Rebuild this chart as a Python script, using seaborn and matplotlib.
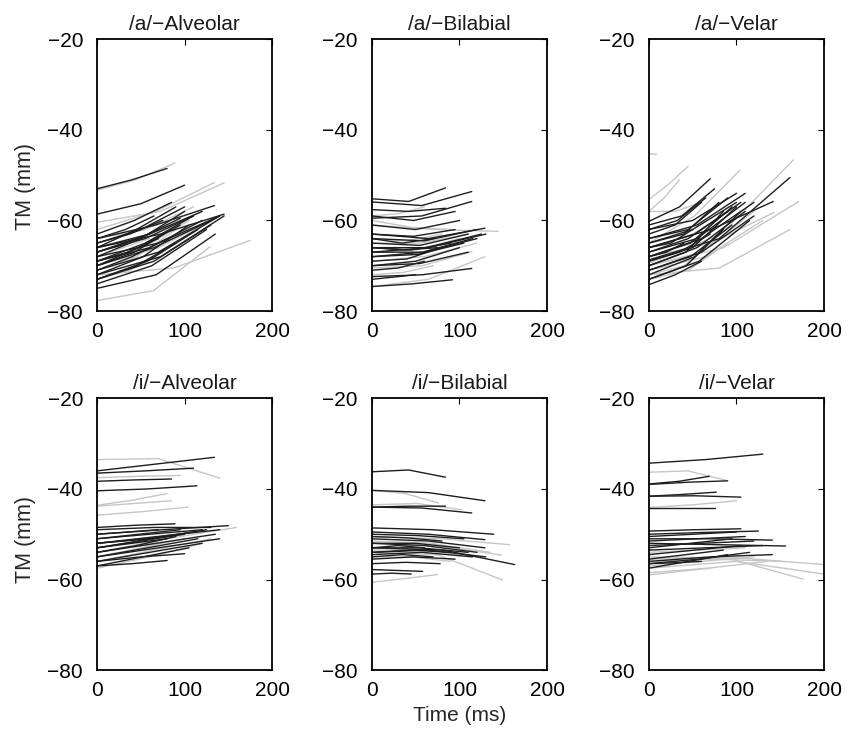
import matplotlib
matplotlib.use("Agg")
import matplotlib.pyplot as plt
import seaborn as sns
import pandas as pd

# Each trajectory: (end time ms, TM at start, TM at mid-time, TM at end)
a_alv_black = [
    (80, -53, -51, -48.5), (100, -58.6, -56.3, -52.2), (134, -64, -61, -56.7), (145, -66, -63, -58.6),
    (85, -63, -60, -56), (90, -66, -62, -57), (100, -68, -64, -58), (110, -67, -64, -59),
    (120, -69, -66, -60), (130, -70, -66, -60), (140, -71, -67, -59), (145, -72, -68, -59),
    (75, -65, -63, -60), (95, -70, -66, -61), (105, -72, -68, -61), (115, -73, -69, -62),
    (125, -74, -70, -62), (60, -67, -65, -63), (70, -69, -67, -64), (80, -71, -68, -64),
    (90, -73, -70, -65), (135, -75, -72, -63), (110, -69, -65, -59), (100, -65, -62, -57),
    (65, -64, -62, -59), (120, -66, -63, -58), (140, -68, -65, -59), (95, -67, -64, -59.5),
    (85, -70, -67, -62), (130, -73, -69, -61),
]
a_alv_gray = [
    (89, -53.3, -51, -47.3), (145, -60.4, -58, -51.7), (134, -62, -58, -51.6), (129, -77.7, -75.5, -65.8),
    (175, -72, -70.5, -64.4), (120, -66, -63, -58), (105, -69, -66, -60), (90, -71, -68, -62),
    (140, -70, -66, -59), (75, -73, -71, -67), (110, -64, -62, -57), (60, -68, -66, -64),
]
a_bil_black = [
    (84, -55.2, -55.8, -52.8), (114, -55.9, -56.7, -53.6), (84, -57.6, -58, -57.3), (114, -59.5, -59, -55.8),
    (95, -59, -60, -58), (129, -63, -64, -61.7), (100, -61, -62, -60), (120, -64, -64.5, -62),
    (110, -65, -65.5, -63), (125, -66, -66, -63), (115, -67, -67, -64), (105, -68, -67.5, -65),
    (90, -66, -66.5, -65), (80, -69, -68.5, -66), (100, -70, -69, -66), (120, -68, -67, -64),
    (130, -67, -66, -63), (70, -64, -65, -64), (60, -71, -70.5, -69), (114, -72.4, -72, -70.6),
    (92, -74.6, -74, -73.1), (110, -70, -69.5, -67), (75, -66, -66.5, -66), (95, -63, -63.5, -62),
    (50, -73, -72.5, -72),
]
a_bil_gray = [
    (144, -61, -62, -62.4), (60, -59, -58.5, -57), (129, -74.6, -73, -68), (114, -70.5, -70, -66.9),
    (90, -60, -61.5, -62), (100, -67, -66.5, -64), (120, -69, -68, -65), (80, -64, -64.5, -63),
    (70, -72, -71.5, -70), (110, -65, -65, -63),
]
a_vel_black = [
    (70, -60.2, -57, -50.8), (161, -68.7, -64, -50.5), (142, -66, -62, -55.8), (100, -62, -60, -54),
    (90, -64, -62, -55), (105, -66, -63, -56), (110, -67, -64, -56), (95, -68, -65, -57),
    (85, -70, -67, -58), (100, -69, -66, -57), (110, -70, -66, -58), (80, -65, -63, -56),
    (60, -63, -61, -56), (75, -61, -59, -53), (90, -67, -64, -58), (105, -72, -68, -58),
    (115, -73, -69, -60), (60, -74.2, -72, -69), (120, -71, -67, -59), (100, -65, -62, -56),
    (50, -66, -65, -62), (40, -68, -67, -65), (70, -69, -67, -63), (95, -71, -68, -61),
    (85, -73, -70, -62), (110, -64, -61, -54), (120, -68, -64, -56), (65, -62, -60, -55),
]
a_vel_gray = [
    (9, -45.3, -45.3, -45.4), (45, -55.4, -52, -48), (35, -58, -55, -51), (104, -65, -59, -48.9),
    (165, -69.5, -63, -46.6), (171, -70, -66, -55.8), (161, -72, -70.5, -62), (143, -68, -65, -58.2),
    (60, -58, -58, -56), (120, -70, -67, -58), (80, -72, -70, -64), (100, -66, -63, -57),
    (130, -71, -68, -60), (90, -73, -71, -65),
]
i_alv_black = [
    (134, -36, -34.5, -33), (110, -36.5, -36, -35.4), (85, -38.3, -38, -37.8), (114, -40.4, -40, -39.3),
    (89, -48.5, -48, -47.7), (150, -50, -49, -48.1), (140, -55, -53, -51), (100, -56, -55, -54.3),
    (80, -57, -56.5, -55.8), (130, -49, -48.5, -48.5), (120, -51, -50, -49), (110, -52, -51, -49.5),
    (100, -53, -51.5, -50), (90, -54, -52.5, -50.5), (125, -53, -51, -49), (135, -54, -52, -50),
    (115, -55, -53, -51), (70, -50, -49.5, -49), (60, -52, -51.5, -51), (95, -51, -50, -49),
    (105, -57, -55, -53), (140, -52, -50.5, -49), (80, -53, -52, -51), (120, -56, -54, -52),
]
i_alv_gray = [
    (140, -33.5, -33.3, -37.6), (95, -37.5, -37.2, -37), (80, -43.6, -42.5, -41), (85, -43.8, -43.2, -42.6),
    (104, -45.8, -45, -44), (159, -54, -51, -48.5), (120, -57.5, -55, -52), (100, -55, -53, -51),
    (90, -52, -51, -50), (130, -56, -53.5, -51), (70, -54, -53, -52),
]
i_bil_black = [
    (84, -36.2, -35.8, -37.4), (129, -40.3, -40.8, -42.6), (84, -44, -43.8, -43.8), (114, -44, -44.2, -45.3),
    (139, -48.6, -49, -50), (129, -49.5, -50, -51.2), (129, -51, -51.5, -53), (163, -53, -53.5, -56.7),
    (78, -56.5, -56.2, -56.5), (58, -57.8, -58, -58.2), (45, -58.8, -58.6, -58.8), (100, -52, -52, -53),
    (110, -53, -53, -54), (120, -52, -52.5, -54), (90, -54, -53.5, -54), (70, -55, -54.5, -55),
    (115, -54.5, -54, -55), (60, -53, -52.5, -53), (130, -54, -53.5, -55), (95, -55.5, -55, -55.5),
    (80, -50.5, -50.8, -51.5), (105, -50, -50.3, -51),
]
i_bil_gray = [
    (76, -40.3, -41, -43.1), (103, -43.5, -43.2, -44.6), (157, -50.5, -51, -52.3), (148, -52, -52.5, -54.6),
    (149, -54, -54.5, -60.1), (75, -60.6, -59.8, -58.9), (120, -53.5, -53.5, -55), (90, -55, -55, -56),
    (135, -51.5, -52, -54),
]
i_vel_black = [
    (130, -34.3, -33.5, -32.3), (69, -38.9, -38.3, -37.2), (90, -39, -38.5, -38.2), (77, -41.6, -41.2, -40.7),
    (105, -41.6, -41.5, -41.8), (75, -44.3, -44.3, -44.3), (105, -49.3, -49, -48.8), (125, -50, -49.6, -49.3),
    (141, -51, -51, -51.3), (156, -52, -52.3, -52.6), (141, -56, -55, -54.5), (100, -50.5, -50, -49.5),
    (110, -51.5, -51, -50.5), (95, -53, -52, -51), (120, -52.5, -52, -51.5), (105, -54.5, -53.5, -52.5),
    (85, -55.5, -54.5, -53.5), (115, -56.5, -55.5, -54), (90, -57.5, -56, -54.5), (60, -56.5, -56.3, -56),
    (130, -53.5, -53, -52.5),
]
i_vel_gray = [
    (89, -36.3, -36, -38.1), (100, -44.1, -43.5, -42.6), (200, -55.5, -55.2, -56.7), (200, -57.5, -56, -58.8),
    (176, -55, -55.2, -59.9), (135, -58.5, -57.5, -56), (120, -57, -56, -55), (70, -59, -58.2, -57.5),
    (110, -54, -53.5, -53), (150, -56, -55.5, -56),
]

titles = ["/a/\u2212Alveolar", "/a/\u2212Bilabial", "/a/\u2212Velar",
          "/i/\u2212Alveolar", "/i/\u2212Bilabial", "/i/\u2212Velar"]
panels = [(a_alv_black, a_alv_gray), (a_bil_black, a_bil_gray), (a_vel_black, a_vel_gray),
          (i_alv_black, i_alv_gray), (i_bil_black, i_bil_gray), (i_vel_black, i_vel_gray)]
yticks = [-80, -60, -40, -20]
xticks = [0, 100, 200]

sns.set_theme(style="white")
plt.rcParams["font.family"] = ["Liberation Sans", "DejaVu Sans"]

fig = plt.figure(figsize=(8.47, 7.33), dpi=100)
lefts = [0.1145, 0.439, 0.766]
bottoms = [0.5757, 0.0859]
W, H = 0.207, 0.3705

palette = {"gray": "#c6c6c6", "black": "#1e1e1e"}

for k, (title, (blk, gry)) in enumerate(zip(titles, panels)):
    rows = []
    lid = 0
    for grp, lines in (("gray", gry), ("black", blk)):
        for (T, y0, ym, ye) in lines:
            for t, y in ((0, y0), (T / 2, ym), (T, ye)):
                rows.append({"line": lid, "grp": grp, "t": t, "y": y})
            lid += 1
    df = pd.DataFrame(rows)
    ax = fig.add_axes([lefts[k % 3], bottoms[k // 3], W, H])
    sns.lineplot(data=df, x="t", y="y", units="line", estimator=None, hue="grp",
                 palette=palette, hue_order=["gray", "black"], sort=False,
                 legend=False, lw=1.0, ax=ax)
    ax.set_xlim(0, 200)
    ax.set_ylim(-80, -20)
    ax.set_xticks(xticks)
    ax.set_yticks(yticks)
    ax.set_xticklabels([str(v) for v in xticks])
    ax.set_yticklabels(["\u221280", "\u221260", "\u221240", "\u221220"])
    ax.tick_params(direction="in", length=4, width=0.8, top=True, right=True,
                   labelsize=15, colors="black")
    ax.tick_params(axis="x", pad=8)
    ax.tick_params(axis="y", pad=10)
    for s in ax.spines.values():
        s.set_color("black")
        s.set_linewidth(1.3)
    ax.set_title(title, fontsize=15, pad=7, color="#1a1a1a")
    ax.set_xlabel("")
    ax.set_ylabel("")
    if k % 3 == 0:
        ax.set_ylabel("TM (mm)", fontsize=15.5)
        ax.yaxis.set_label_coords(-0.35, 0.46 if k == 0 else 0.48)
    if k == 4:
        ax.set_xlabel("Time (ms)", fontsize=15, labelpad=4)

fig.savefig("out.png", dpi=100)
